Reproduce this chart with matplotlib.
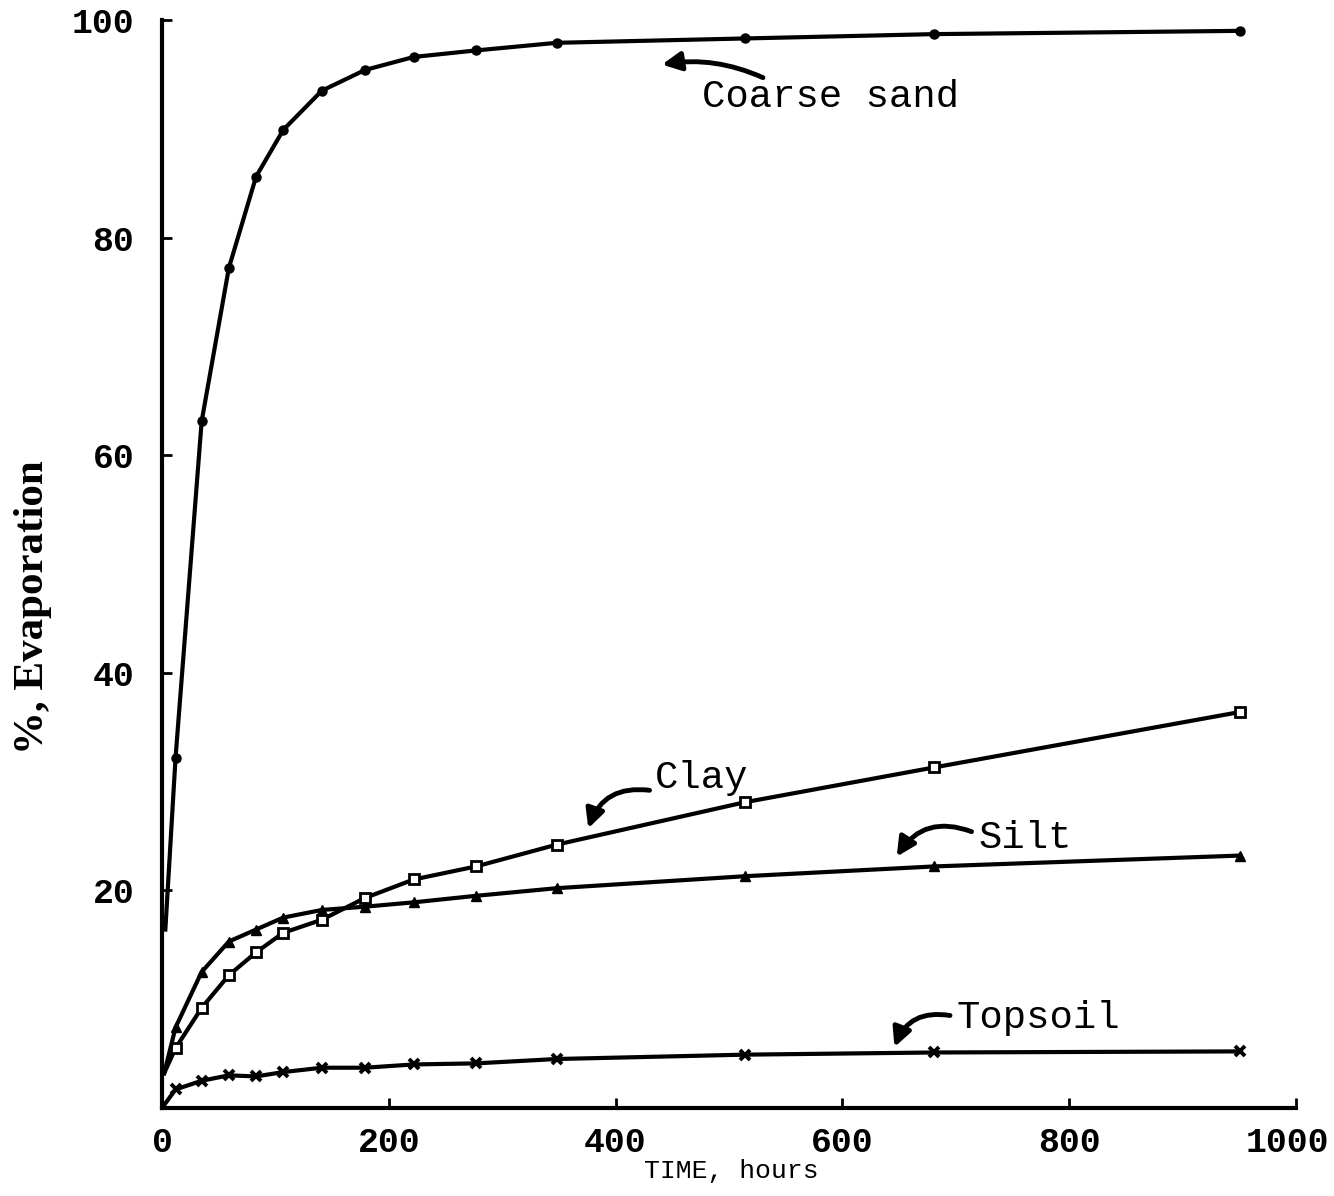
import numpy as np
import matplotlib
matplotlib.use('Agg')
from matplotlib import pyplot as plt
from matplotlib.transforms import ScaledTranslation

# time of readings, hours
hours = [12, 35, 59, 83, 107, 141, 179, 222, 277, 348, 514, 681, 951]

# % evaporation
sand_t = [3] + hours
sand = [16.4, 32.2, 63.1, 77.2, 85.6, 89.9, 93.5, 95.4, 96.6, 97.2, 97.9, 98.3, 98.7, 99.0]
clay = [5.5, 9.2, 12.2, 14.3, 16.1, 17.3, 19.3, 21.0, 22.2, 24.2, 28.1, 31.3, 36.4]
silt = [7.4, 12.5, 15.3, 16.4, 17.5, 18.2, 18.5, 18.9, 19.5, 20.2, 21.3, 22.2, 23.2]
topsoil = [1.7, 2.5, 3.0, 2.9, 3.3, 3.7, 3.7, 4.0, 4.1, 4.5, 4.9, 5.1, 5.2]
# where clay / silt leave the axis
start_t = 2
start_v = 3.2

mono = 'Liberation Mono'
serif = 'Liberation Serif'

fig = plt.figure(figsize=(13.34, 11.96), dpi=100)
ax = fig.add_axes([0.1214, 0.0736, 0.85, 0.9097])

lw = 3.0
# coarse sand
ax.plot(sand_t, sand, '-', color='k', lw=lw, clip_on=False)
ax.plot(sand_t[1:], sand[1:], 'o', color='k', ms=6.5, clip_on=False)
# clay
ax.plot([start_t] + hours, [start_v] + clay, '-', color='k', lw=lw)
ax.plot(hours, clay, 's', mfc='white', mec='k', mew=2, ms=7)
# silt
ax.plot([start_t] + hours, [start_v] + silt, '-', color='k', lw=lw)
ax.plot(hours, silt, '^', color='k', ms=7.5)
# topsoil
ax.plot([0] + hours, [0] + topsoil, '-', color='k', lw=lw)
ax.plot(hours, topsoil, 'x', color='k', mew=2.8, ms=7.5)

ax.set_xlim(0, 1000)
ax.set_ylim(0, 100)
ax.set_xticks([0, 200, 400, 600, 800, 1000])
ax.set_yticks([20, 40, 60, 80, 100])
ax.spines['top'].set_visible(False)
ax.spines['right'].set_visible(False)
ax.spines['left'].set_linewidth(3)
ax.spines['bottom'].set_linewidth(3)
ax.tick_params(direction='in', length=7, width=2)
ax.tick_params(axis='x', pad=13)
ax.tick_params(axis='y', pad=20)
for lab in ax.get_xticklabels() + ax.get_yticklabels():
    lab.set_fontfamily(mono)
    lab.set_fontweight('bold')
    lab.set_fontsize(25)
# last x label sits a bit left of its tick, as in the scan
last = ax.get_xticklabels()[-1]
last.set_transform(last.get_transform() + ScaledTranslation(-6 / 72, 0, fig.dpi_scale_trans))

ax.set_xlabel('TIME, hours', fontfamily=mono, fontsize=19)
ax.xaxis.set_label_coords(0.502, -0.047)
ax.set_ylabel('%, Evaporation', fontfamily=serif, fontweight='bold', fontsize=31)
ax.yaxis.set_label_coords(-0.097, 0.46)

arrow = dict(arrowstyle='-|>', color='k', lw=3.5, mutation_scale=28, shrinkA=0, shrinkB=0)
ax.text(476, 92.0, 'Coarse sand', fontfamily=mono, fontsize=28)
ax.annotate('', xy=(441, 95.9), xytext=(530, 94.7),
            arrowprops=dict(arrow, connectionstyle='arc3,rad=0.15'))
ax.text(435, 29.4, 'Clay', fontfamily=mono, fontsize=28)
ax.annotate('', xy=(376, 25.7), xytext=(430, 29.2),
            arrowprops=dict(arrow, connectionstyle='arc3,rad=0.4'))
ax.text(720, 23.9, 'Silt', fontfamily=mono, fontsize=28)
ax.annotate('', xy=(648, 23.1), xytext=(714, 25.4),
            arrowprops=dict(arrow, connectionstyle='arc3,rad=0.4'))
ax.text(701, 7.35, 'Topsoil', fontfamily=mono, fontsize=28)
ax.annotate('', xy=(646, 5.6), xytext=(695, 8.5),
            arrowprops=dict(arrow, connectionstyle='arc3,rad=0.4'))

fig.savefig('out.png', dpi=100)
